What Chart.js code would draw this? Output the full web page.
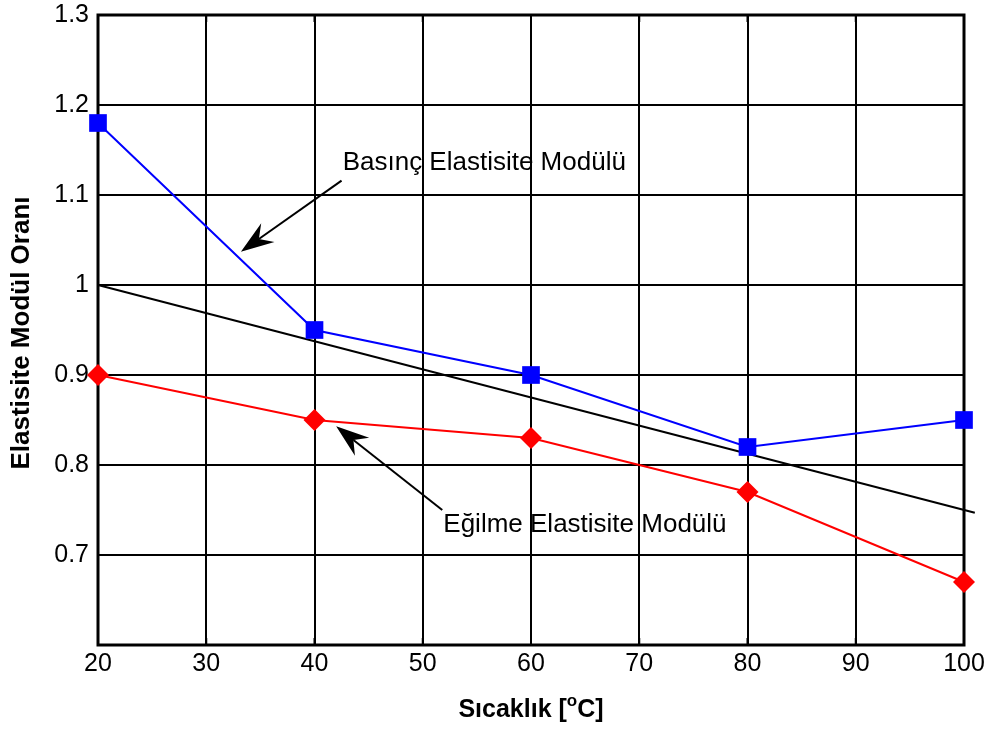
<!DOCTYPE html>
<html>
<head>
<meta charset="utf-8">
<script src="https://cdn.jsdelivr.net/npm/chart.js@4.4.0/dist/chart.umd.min.js"></script>
<style>
  html, body { margin: 0; padding: 0; background: #fff; }
</style>
</head>
<body>
<canvas id="chart" width="994" height="731"></canvas>
<script>
// temperatures and modulus ratios
const temps = [20, 40, 60, 80, 100];
const basincRatio = [1.18, 0.95, 0.90, 0.82, 0.85];
const egilmeRatio = [0.90, 0.85, 0.83, 0.77, 0.67];

// straight reference line
const trendX = [20, 101];
const trendY = [1.0, 0.747];

const xTicks = [20, 30, 40, 50, 60, 70, 80, 90, 100];
const yTicks = [0.6, 0.7, 0.8, 0.9, 1.0, 1.1, 1.2, 1.3];

// callout texts and arrows (data units)
const callouts = [
  { text: "Basınç Elastisite Modülü", at: [42.6, 1.136], tail: [42.5, 1.116], tip: [33.2, 1.037] },
  { text: "Eğilme Elastisite Modülü", at: [51.9, 0.733], tail: [51.8, 0.750], tip: [42.0, 0.843] }
];

const FONT = "'Liberation Sans', Arial, sans-serif";

const toPoints = (xs, ys) => xs.map((x, i) => ({ x, y: ys[i] }));

function drawArrow(ctx, x1, y1, x2, y2) {
  const ang = Math.atan2(y2 - y1, x2 - x1);
  const len = 33, half = 11.5, notch = 22;
  ctx.save();
  ctx.strokeStyle = "#000";
  ctx.fillStyle = "#000";
  ctx.lineWidth = 2;
  ctx.beginPath();
  ctx.moveTo(x1, y1);
  ctx.lineTo(x2 - Math.cos(ang) * notch, y2 - Math.sin(ang) * notch);
  ctx.stroke();
  ctx.translate(x2, y2);
  ctx.rotate(ang);
  ctx.beginPath();
  ctx.moveTo(0, 0);
  ctx.lineTo(-len, -half);
  ctx.lineTo(-notch, 0);
  ctx.lineTo(-len, half);
  ctx.closePath();
  ctx.fill();
  ctx.restore();
}

const decorations = {
  id: "decorations",
  beforeDatasetsDraw(chart) {
    const { ctx, chartArea: a, scales: { x, y } } = chart;
    ctx.save();

    // box around the plot
    ctx.strokeStyle = "#000";
    ctx.lineWidth = 3;
    ctx.strokeRect(a.left, a.top, a.right - a.left, a.bottom - a.top);

    // inward tick marks
    ctx.lineWidth = 2;
    ctx.beginPath();
    xTicks.forEach(v => {
      const px = x.getPixelForValue(v);
      ctx.moveTo(px, a.bottom); ctx.lineTo(px, a.bottom - 7);
      ctx.moveTo(px, a.top); ctx.lineTo(px, a.top + 7);
    });
    yTicks.forEach(v => {
      const py = y.getPixelForValue(v);
      ctx.moveTo(a.left, py); ctx.lineTo(a.left + 7, py);
      ctx.moveTo(a.right, py); ctx.lineTo(a.right - 7, py);
    });
    ctx.stroke();
    ctx.restore();
  },
  afterDatasetsDraw(chart) {
    const { ctx, chartArea: a, scales: { x, y } } = chart;
    ctx.save();

    // callouts
    ctx.fillStyle = "#000";
    ctx.font = "26px " + FONT;
    ctx.textAlign = "left";
    ctx.textBaseline = "middle";
    callouts.forEach(c => {
      ctx.fillText(c.text, x.getPixelForValue(c.at[0]), y.getPixelForValue(c.at[1]));
      drawArrow(ctx,
        x.getPixelForValue(c.tail[0]), y.getPixelForValue(c.tail[1]),
        x.getPixelForValue(c.tip[0]), y.getPixelForValue(c.tip[1]));
    });

    // axis titles
    ctx.textBaseline = "alphabetic";
    const cx = (a.left + a.right) / 2;
    const parts = [
      { t: "Sıcaklık [", f: "bold 25px " + FONT, dy: 0 },
      { t: "o", f: "bold 17px " + FONT, dy: -11 },
      { t: "C]", f: "bold 25px " + FONT, dy: 0 }
    ];
    let total = 0;
    parts.forEach(p => { ctx.font = p.f; p.w = ctx.measureText(p.t).width; total += p.w; });
    let px = cx - total / 2;
    parts.forEach(p => {
      ctx.font = p.f;
      ctx.fillText(p.t, px, 717 + p.dy);
      px += p.w;
    });

    ctx.font = "bold 26px " + FONT;
    ctx.translate(22, 333);
    ctx.rotate(-Math.PI / 2);
    ctx.textAlign = "center";
    ctx.textBaseline = "middle";
    ctx.fillText("Elastisite Modül Oranı", 0, 0);
    ctx.restore();
  }
};

new Chart(document.getElementById("chart"), {
  type: "scatter",
  data: {
    datasets: [
      {
        label: "Basınç Elastisite Modülü",
        data: toPoints(temps, basincRatio),
        showLine: true,
        borderColor: "#0000ff",
        backgroundColor: "#0000ff",
        borderWidth: 2,
        pointStyle: "rect",
        pointRadius: 12.5,
        pointBorderWidth: 0,
        clip: false,
        order: 1
      },
      {
        label: "Eğilme Elastisite Modülü",
        data: toPoints(temps, egilmeRatio),
        showLine: true,
        borderColor: "#ff0000",
        backgroundColor: "#ff0000",
        borderWidth: 2,
        pointStyle: "rectRot",
        pointRadius: 11,
        pointBorderWidth: 0,
        clip: false,
        order: 2
      },
      {
        label: "Doğru",
        data: toPoints(trendX, trendY),
        showLine: true,
        borderColor: "#000",
        borderWidth: 2,
        pointRadius: 0,
        clip: false,
        order: 3
      }
    ]
  },
  options: {
    responsive: false,
    devicePixelRatio: 1,
    animation: false,
    layout: { padding: { left: 0, top: 0, right: 30, bottom: 0 } },
    plugins: { legend: { display: false }, tooltip: { enabled: false } },
    scales: {
      x: {
        type: "linear",
        min: 20,
        max: 100,
        afterBuildTicks: s => { s.ticks = xTicks.map(v => ({ value: v })); },
        afterFit: s => { s.height = 86; s.paddingLeft = 0; },
        grid: { color: "#000", lineWidth: 2, drawTicks: false },
        border: { display: false },
        ticks: { color: "#000", padding: 4, font: { family: FONT, size: 25 } }
      },
      y: {
        type: "linear",
        min: 0.6,
        max: 1.3,
        afterBuildTicks: s => { s.ticks = yTicks.map(v => ({ value: v })); },
        afterFit: s => { s.width = 98; s.paddingTop = 15; s.paddingBottom = 0; },
        grid: { color: "#000", lineWidth: 2, drawTicks: false },
        border: { display: false },
        ticks: {
          color: "#000",
          padding: 9,
          font: { family: FONT, size: 25 },
          callback: v => (v < 0.65 ? "" : String(Number(v.toFixed(1))))
        }
      }
    }
  },
  plugins: [decorations]
});
</script>
</body>
</html>
